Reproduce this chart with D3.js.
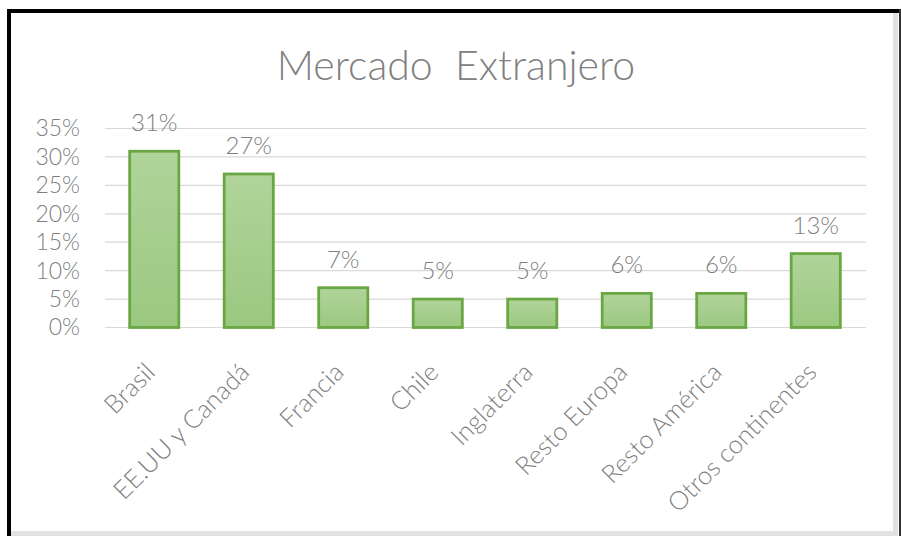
<!DOCTYPE html>
<html>
<head>
<meta charset="utf-8">
<script src="https://cdn.jsdelivr.net/npm/d3@7"></script>
<style>
  body { margin: 0; background: #fff; }
  text { font-family: Lato, "Open Sans", sans-serif; font-weight: 300; }
</style>
</head>
<body>
<div id="chart"></div>
<script>
// data
var categories = ["Brasil", "EE.UU y Canadá", "Francia", "Chile", "Inglaterra", "Resto Europa", "Resto América", "Otros continentes"];
var values = [31, 27, 7, 5, 5, 6, 6, 13];
var yTicks = [0, 5, 10, 15, 20, 25, 30, 35];

var width = 901, height = 536;
var labelFont = "Lato, \"Open Sans\", sans-serif";

var svg = d3.select("#chart")
    .append("svg")
    .attr("width", width)
    .attr("height", height);

// frame
svg.append("rect").attr("x", 0).attr("y", 0).attr("width", width).attr("height", height).attr("fill", "#fff");
svg.append("rect")
    .attr("x", 893).attr("y", 13).attr("width", 5).attr("height", 523)
    .attr("fill", "#e2e2e2");
svg.append("rect")
    .attr("x", 11).attr("y", 531).attr("width", 887).attr("height", 5)
    .attr("fill", "#e2e2e2");
svg.append("line")
    .attr("x1", 9).attr("x2", 9).attr("y1", 9).attr("y2", 536)
    .attr("stroke", "#000").attr("stroke-width", 4);
svg.append("line")
    .attr("x1", 7).attr("x2", 901).attr("y1", 11).attr("y2", 11)
    .attr("stroke", "#000").attr("stroke-width", 4);
svg.append("line")
    .attr("x1", 900).attr("x2", 900).attr("y1", 9).attr("y2", 536)
    .attr("stroke", "#333").attr("stroke-width", 2);

var defs = svg.append("defs");
var grad = defs.append("linearGradient")
    .attr("id", "barGrad")
    .attr("x1", 0).attr("y1", 0).attr("x2", 0).attr("y2", 1);
grad.append("stop").attr("offset", "0%").attr("stop-color", "#b0d49a");
grad.append("stop").attr("offset", "100%").attr("stop-color", "#9bc880");

var x = d3.scaleBand()
    .domain(categories)
    .range([107, 863])
    .paddingInner(0.48)
    .paddingOuter(0.24);

var y = d3.scaleLinear()
    .domain([0, 35])
    .range([327.5, 128.5]);

// title
svg.append("text")
    .attr("x", 456)
    .attr("y", 80)
    .attr("text-anchor", "middle")
    .style("font-size", "41px")
    .style("fill", "#808080")
    .style("white-space", "pre")
    .text("Mercado  Extranjero");

// grid lines
svg.append("g")
    .selectAll("line")
    .data(yTicks)
    .enter().append("line")
    .attr("x1", 105)
    .attr("x2", 866)
    .attr("y1", function (d) { return y(d); })
    .attr("y2", function (d) { return y(d); })
    .attr("stroke", "#d9d9d9")
    .attr("stroke-width", 1.2);

// y axis labels
var yAxis = d3.axisLeft(y)
    .tickValues(yTicks)
    .tickSize(0)
    .tickPadding(0)
    .tickFormat(function (d) { return d + "%"; });

var yg = svg.append("g")
    .attr("transform", "translate(80,0)")
    .call(yAxis);
yg.select(".domain").remove();
yg.selectAll("text")
    .style("font-size", "23px")
    .style("fill", "#808080")
    .style("font-family", labelFont)
    .style("font-weight", 300);

// bars
svg.append("g")
    .selectAll("rect")
    .data(values)
    .enter().append("rect")
    .attr("x", function (d, i) { return x(categories[i]); })
    .attr("y", function (d) { return y(d); })
    .attr("width", x.bandwidth())
    .attr("height", function (d) { return y(0) - y(d); })
    .attr("fill", "url(#barGrad)")
    .attr("stroke", "#6aa744")
    .attr("stroke-width", 2.8);

// value labels
svg.append("g")
    .selectAll("text")
    .data(values)
    .enter().append("text")
    .attr("x", function (d, i) { return x(categories[i]) + x.bandwidth() / 2; })
    .attr("y", function (d) { return y(d) - 20; })
    .attr("text-anchor", "middle")
    .style("font-size", "24px")
    .style("fill", "#808080")
    .text(function (d) { return d + "%"; });

// category labels
var xAxis = d3.axisBottom(x).tickSize(0).tickPadding(0);
var xg = svg.append("g")
    .attr("transform", "translate(-4," + (y(0) + 40) + ")")
    .call(xAxis);
xg.select(".domain").remove();
xg.selectAll("text")
    .attr("y", 0)
    .attr("dy", "0.35em")
    .attr("text-anchor", "end")
    .attr("transform", "rotate(-45)")
    .style("font-size", "25.5px")
    .style("fill", "#808080")
    .style("font-family", labelFont)
    .style("font-weight", 300);
</script>
</body>
</html>
